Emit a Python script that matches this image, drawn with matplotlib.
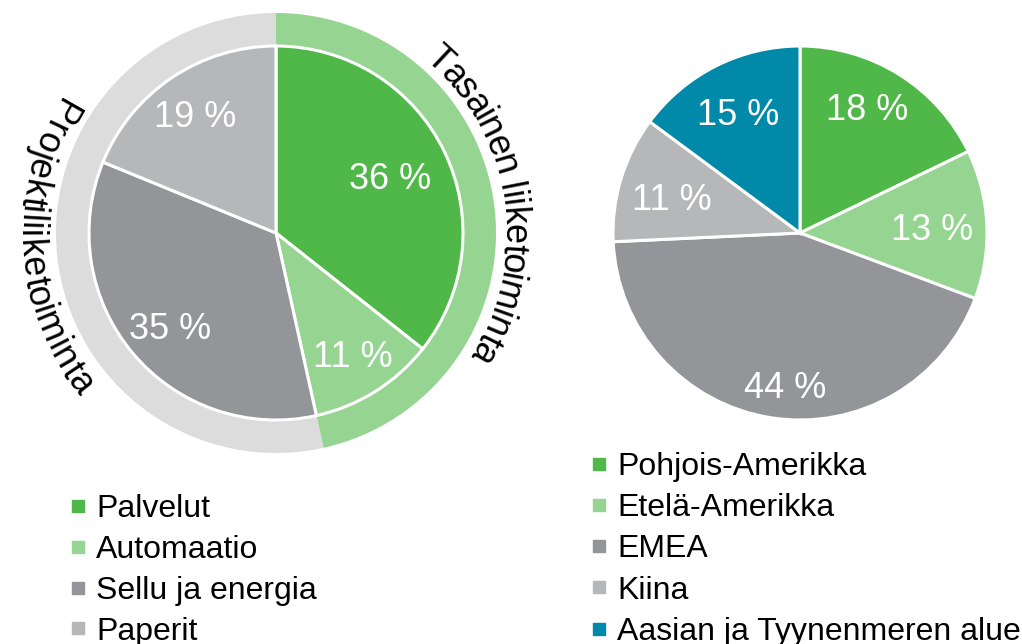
import numpy as np
import matplotlib
matplotlib.use("Agg")
import matplotlib.pyplot as plt
from matplotlib.lines import Line2D
from matplotlib.font_manager import FontProperties, findfont, get_font

plt.rcParams["font.family"] = ["Liberation Sans", "DejaVu Sans"]

# --- data -------------------------------------------------------------
seg_labels = ["Palvelut", "Automaatio", "Sellu ja energia", "Paperit"]
seg_values = [36, 11, 35, 19]
seg_colors = ["#50B848", "#96D492", "#939598", "#B6B7B9"]

group_labels = ["Tasainen liiketoiminta", "Projektiliiketoiminta"]
group_members = [[0, 1], [2, 3]]
group_colors = ["#96D492", "#DCDCDC"]

reg_labels = ["Pohjois-Amerikka", "Etelä-Amerikka", "EMEA", "Kiina",
              "Aasian ja Tyynenmeren alue"]
reg_values = [18, 13, 44, 11, 15]
reg_colors = ["#50B848", "#96D492", "#939598", "#B6B7B9", "#0089A9"]

# --- layout (pixel coords, y measured from top) -------------------------
W, H = 1022, 644
left_c = (276, 233)
right_c = (800, 233)
R_PIE = 187
R_RING = 220
seg_lab_pos = [(390, 179), (353, 357), (170, 329), (195, 117)]
reg_lab_pos = [(867, 110), (932, 230), (785, 389), (672, 200), (738, 115)]


def to_data(p):
    return (p[0], H - p[1])


fig = plt.figure(figsize=(W / 100, H / 100), dpi=100)
ax = fig.add_axes([0, 0, 1, 1])

# outer ring of the left chart
group_values = [sum(seg_values[i] for i in m) for m in group_members]
ax.pie(group_values, colors=group_colors, center=to_data(left_c),
       radius=R_RING, startangle=90, counterclock=False,
       wedgeprops=dict(width=R_RING - R_PIE, linewidth=0))

wp = dict(edgecolor="white", linewidth=2.2)
ax.pie(seg_values, colors=seg_colors, center=to_data(left_c), radius=R_PIE,
       startangle=90, counterclock=False, wedgeprops=wp)
ax.pie(reg_values, colors=reg_colors, center=to_data(right_c), radius=R_PIE,
       startangle=90, counterclock=False, wedgeprops=wp)

for v, p in zip(seg_values, seg_lab_pos):
    x, y = to_data(p)
    ax.text(x, y, f"{v} %", color="white", fontsize=26, ha="center", va="center")
for v, p in zip(reg_values, reg_lab_pos):
    x, y = to_data(p)
    ax.text(x, y, f"{v} %", color="white", fontsize=26, ha="center", va="center")

# curved group titles around the ring
ARC_FS = 26
PX = 100 / 72
prop = FontProperties(family="Liberation Sans", size=ARC_FS)
font = get_font(findfont(prop))
font.set_size(ARC_FS, 72)


def glyph_metrics(c):
    g = font.load_char(ord(c))
    adv = g.linearHoriAdvance / 65536 * PX
    xmin, _, xmax, _ = g.bbox
    ink_mid = (xmin + xmax) / 2 / 64 * PX if xmax > xmin else adv / 2
    return adv, ink_mid


def arc_text(s, center, theta_c, r_base, r_arc, clockwise):
    mets = [glyph_metrics(c) for c in s]
    total = sum(m[0] for m in mets)
    cx, cy = to_data(center)
    sign = 1 if clockwise else -1
    th0 = np.radians(theta_c) - sign * total / 2 / r_arc
    pos = 0.0
    for c, (adv, mid) in zip(s, mets):
        th = th0 + sign * (pos + mid) / r_arc
        pos += adv
        if c == " ":
            continue
        x = cx + r_base * np.sin(th)
        y = cy + r_base * np.cos(th)
        rot = -np.degrees(th) if clockwise else 180 - np.degrees(th)
        ax.text(x, y, c, fontsize=ARC_FS, rotation=rot, rotation_mode="anchor",
                ha="center", va="baseline", color="black")


arc_text(group_labels[0], left_c, 81.5, 228, 243, clockwise=True)
arc_text(group_labels[1], left_c, 266.4, 256, 245, clockwise=False)

# legends
def handles(colors):
    return [Line2D([], [], marker="s", ls="", color=c, markersize=8.5) for c in colors]


leg_kw = dict(loc="upper left", frameon=False, fontsize=23, handlelength=0.55,
              handletextpad=0.3, borderpad=0, borderaxespad=0)
leg1 = ax.legend(handles(seg_colors), seg_labels, labelspacing=0.34,
                 bbox_to_anchor=(69 / W, (H - 494) / H), **leg_kw)
ax.add_artist(leg1)
ax.legend(handles(reg_colors), reg_labels, labelspacing=0.35,
          bbox_to_anchor=(590 / W, (H - 452) / H), **leg_kw)

ax.set_xlim(0, W)
ax.set_ylim(0, H)
ax.set_aspect("equal")
ax.axis("off")

fig.savefig("out.png", dpi=100)
